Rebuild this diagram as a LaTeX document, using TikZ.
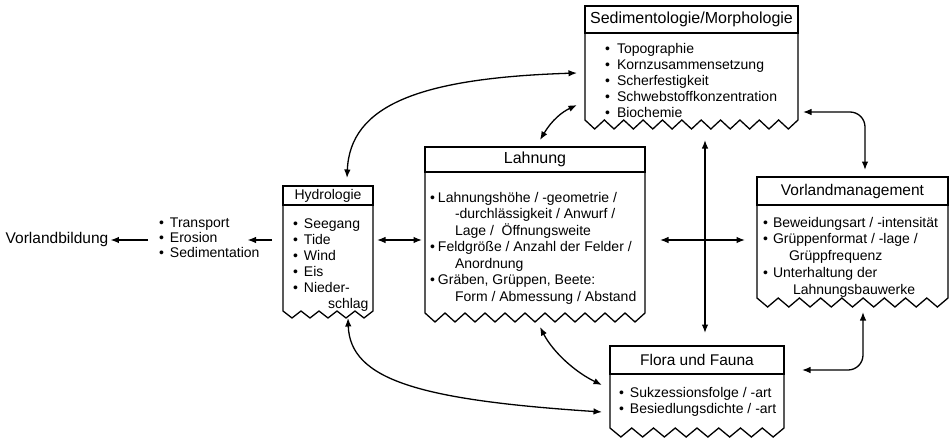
\documentclass[tikz,border=0pt]{standalone}
\usepackage{fontspec}
\setmainfont{Liberation Sans}
\usetikzlibrary{arrows.meta}
\usetikzlibrary{positioning}
\newcommand{\bul}[1]{\makebox[#1][l]{\textbullet}}

\begin{document}
\begin{tikzpicture}[x=1pt,y=-1pt,
  boxframe/.style={inner sep=0pt,outer sep=0pt},
  boxline/.style={line width=1.3pt,line join=miter},
  headbox/.style={draw,line width=1.3pt,inner sep=0pt,outer sep=0pt,anchor=north},
  items/.style={inner sep=0pt,outer sep=0pt,anchor=north west,align=left},
  dbl/.style={line width=1.3pt,{Latex[length=8.5pt,width=6.5pt]}-{Latex[length=8.5pt,width=6.5pt]}},
  arr/.style={line width=1.3pt,-{Latex[length=8.5pt,width=6.5pt]}}]
\useasboundingbox (0,0) rectangle (951,439);

% boxes
\node[boxframe,minimum width=213,minimum height=114] (sed) at (691.5,63) {};
\node[boxframe,minimum width=220,minimum height=166] (lah) at (535,230) {};
\node[boxframe,minimum width=90,minimum height=125] (hyd) at (328,248.5) {};
\node[boxframe,minimum width=191,minimum height=121] (vor) at (852.5,237.5) {};
\node[boxframe,minimum width=174,minimum height=82] (flo) at (697,387) {};
\coordinate (hub) at (705,240);

\draw[boxline] (sed.south west) -- (sed.north west) -- (sed.north east) -- (sed.south east)
  \foreach \i in {1,...,11}{ -- ++(-213/22,9) -- ++(-213/22,-9)} -- cycle;
\draw[boxline] (lah.south west) -- (lah.north west) -- (lah.north east) -- (lah.south east)
  \foreach \i in {1,...,11}{ -- ++(-10,9) -- ++(-10,-9)} -- cycle;
\draw[boxline] (hyd.south west) -- (hyd.north west) -- (hyd.north east) -- (hyd.south east)
  \foreach \i in {1,...,5}{ -- ++(-9,7) -- ++(-9,-7)} -- cycle;
\draw[boxline] (vor.south west) -- (vor.north west) -- (vor.north east) -- (vor.south east)
  \foreach \i in {1,...,9}{ -- ++(-191/18,9) -- ++(-191/18,-9)} -- cycle;
\draw[boxline] (flo.south west) -- (flo.north west) -- (flo.north east) -- (flo.south east)
  \foreach \i in {1,...,8}{ -- ++(-174/16,9) -- ++(-174/16,-9)} -- cycle;

% headers
\node[headbox,minimum width=213,minimum height=27,font=\fontsize{16}{19}\selectfont] (sedT) at (sed.north) {Sedimentologie/Morphologie};
\node[headbox,minimum width=220,minimum height=25,font=\fontsize{16}{19}\selectfont] (lahT) at (lah.north) {Lahnung};
\node[headbox,minimum width=90,minimum height=19,font=\fontsize{14}{17}\selectfont] (hydT) at (hyd.north) {Hydrologie};
\node[headbox,minimum width=191,minimum height=28,font=\fontsize{15.5}{18}\selectfont] (vorT) at (vor.north) {Vorlandmanagement};
\node[headbox,minimum width=174,minimum height=28,font=\fontsize{15.5}{18}\selectfont] (floT) at (flo.north) {Flora und Fauna};

% lists
\node[items,font=\fontsize{14}{16}\selectfont] (sedL) at (605,43) {\bul{12pt}Topographie\\ \bul{12pt}Kornzusammensetzung\\ \bul{12pt}Scherfestigkeit\\ \bul{12pt}Schwebstoffkonzentration\\ \bul{12pt}Biochemie};
\node[items,font=\fontsize{14}{16.5}\selectfont] (lahL) at (430,192) {\bul{8pt}Lahnungshöhe / -geometrie /\\ \hspace*{25pt}-durchlässigkeit / Anwurf /\\ \hspace*{25pt}Lage /\ \ Öffnungsweite\\ \bul{8pt}Feldgröße / Anzahl der Felder /\\ \hspace*{25pt}Anordnung\\ \bul{8pt}Gräben, Grüppen, Beete:\\ \hspace*{25pt}Form / Abmessung / Abstand};
\node[items,font=\fontsize{14}{16}\selectfont] (hydL) at (293,219) {\bul{11pt}Seegang\\ \bul{11pt}Tide\\ \bul{11pt}Wind\\ \bul{11pt}Eis\\ \bul{11pt}Nieder-\\ \hspace*{35pt}schlag};
\node[items,font=\fontsize{14}{16.75}\selectfont] (vorL) at (763,217) {\bul{10pt}Beweidungsart / -intensität\\ \bul{10pt}Grüppenformat / -lage /\\ \hspace*{26pt}Grüppfrequenz\\ \bul{10pt}Unterhaltung der\\ \hspace*{30pt}Lahnungsbauwerke};
\node[items,font=\fontsize{14}{16}\selectfont] (floL) at (619,387) {\bul{11pt}Sukzessionsfolge / -art\\ \bul{11pt}Besiedlungsdichte / -art};
\node[items,font=\fontsize{14}{15}\selectfont] (lst) at (159,218) {\bul{11pt}Transport\\ \bul{11pt}Erosion\\ \bul{11pt}Sedimentation};
\node[inner sep=2pt,font=\fontsize{15.5}{18}\selectfont] (vb) at (57,239) {Vorlandbildung};

% connectors
\draw[arr] ([xshift=-11pt]hyd.west |- hub) -- ([xshift=-12pt]lst.east |- hub);
\draw[arr] ([xshift=-11pt]lst.west |- hub) -- (vb.east |- hub);
\draw[dbl] ([xshift=4pt]hyd.east |- hub) -- ([xshift=-3pt]lah.west |- hub);
\draw[dbl] ([xshift=15pt]lah.east |- hub) -- ([xshift=-12pt]vor.west |- hub);
\draw[dbl] ([yshift=-20pt]sed.south -| hub) -- ([yshift=13pt]flo.north -| hub);
\draw[dbl] ([xshift=5pt,yshift=7pt]lah.north) .. controls (552,120) and (562,112) .. ([xshift=-8pt,yshift=15pt]sed.south west);
\draw[dbl] ([xshift=19pt,yshift=8pt]hyd.north) .. controls (350,105) and (420,78) .. ([xshift=-8pt,yshift=-10pt]sed.west);
\draw[dbl] ([xshift=5pt,yshift=-14pt]lah.south) .. controls (553,352) and (575,372) .. ([xshift=-8pt,yshift=2pt]flo.west);
\draw[dbl] ([xshift=20pt,yshift=-7pt]hyd.south) .. controls (350,380) and (420,400) .. ([xshift=-8pt,yshift=-25pt]flo.west);
\draw[dbl,rounded corners=15pt] ([xshift=5pt,yshift=8pt]sed.south east) -| ([xshift=12.5pt,yshift=7pt]vor.north);
\draw[dbl,rounded corners=15pt] ([xshift=10.5pt,yshift=-14pt]vor.south) |- ([xshift=18pt,yshift=17pt]flo.east);
\end{tikzpicture}
\end{document}
